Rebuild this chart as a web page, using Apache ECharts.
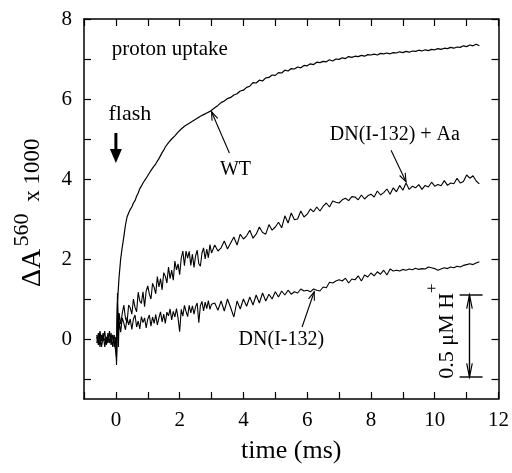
<!DOCTYPE html>
<html><head><meta charset="utf-8">
<script src="https://cdn.jsdelivr.net/npm/echarts@6/dist/echarts.min.js"></script>
<style>html,body{margin:0;padding:0;background:#fff}#c{width:512px;height:473px}</style>
</head><body><div id="c"></div>
<script>
// ---- time samples (ms) ----
const tPre = [-0.6,-0.55,-0.5,-0.45,-0.4,-0.35,-0.3,-0.25,-0.2,-0.15,-0.1,-0.05,0];
const tEarly = [0.02,0.05,0.08,0.1,0.15,0.2,0.25,0.3,0.35,0.4,
0.45,0.5,0.55,0.6,0.65,0.7,0.75,0.8,0.85,0.9,
0.95,1,1.05,1.1,1.15,1.2,1.25,1.3,1.35,1.4,
1.45,1.5,1.55,1.6,1.65,1.7,1.75,1.8,1.85,1.9,
1.95,2,2.05,2.1,2.15,2.2,2.25,2.3,2.35,2.4,
2.45,2.5,2.55,2.6,2.65,2.7,2.75,2.8,2.85,2.9,
2.95,3];
const tLate = [3.1,3.2,3.3,3.4,3.5,3.6,3.7,3.8,3.9,4.0,
4.1,4.2,4.3,4.4,4.5,4.6,4.7,4.8,4.9,5.0,
5.1,5.2,5.3,5.4,5.5,5.6,5.7,5.8,5.9,6.0,
6.1,6.2,6.3,6.4,6.5,6.6,6.7,6.8,6.9,7.0,
7.1,7.2,7.3,7.4,7.5,7.6,7.7,7.8,7.9,8.0,
8.1,8.2,8.3,8.4,8.5,8.6,8.7,8.8,8.9,9.0,
9.1,9.2,9.3,9.4,9.5,9.6,9.7,9.8,9.9,10.0,
10.1,10.2,10.3,10.4,10.5,10.6,10.7,10.8,10.9,11.0,
11.1,11.2,11.3,11.4];

// ---- WT ----
const wtPre = [0.1,-0.15,0.2,-0.05,0.15,-0.2,0.05,-0.1,0.2,-0.15,0.1,-0.05,0.0];
const wtEarly = [-0.45,0.9,1.3,1.55,2.0,2.3,2.56,2.85,3.05,3.15,
3.24,3.3,3.4,3.46,3.57,3.65,3.76,3.82,3.9,3.94,
4.02,4.07,4.15,4.19,4.27,4.3,4.38,4.43,4.51,4.56,
4.66,4.72,4.8,4.84,4.91,4.94,5.0,5.03,5.08,5.11,
5.17,5.19,5.25,5.27,5.32,5.33,5.37,5.38,5.42,5.44,
5.47,5.49,5.52,5.53,5.57,5.58,5.61,5.62,5.65,5.66,
5.69,5.71];
const wtLate = [5.78,5.84,5.91,5.95,6.01,6.04,6.1,6.13,6.2,6.22,
6.29,6.32,6.41,6.4,6.47,6.45,6.53,6.54,6.6,6.59,
6.66,6.65,6.72,6.7,6.76,6.75,6.8,6.78,6.84,6.83,
6.88,6.86,6.92,6.91,6.94,6.93,6.98,6.95,7.0,6.99,
7.03,7.01,7.06,7.04,7.07,7.06,7.09,7.07,7.11,7.1,
7.12,7.1,7.14,7.13,7.15,7.13,7.16,7.15,7.18,7.16,
7.19,7.17,7.2,7.19,7.22,7.2,7.23,7.21,7.24,7.23,
7.26,7.24,7.27,7.26,7.29,7.27,7.3,7.29,7.33,7.31,
7.35,7.33,7.37,7.33];

// ---- DN(I-132) + Aa ----
const aaPre = [-0.1,0.15,-0.2,0.1,-0.05,0.2,-0.15,0.05,-0.1,0.15,-0.2,0.1,-0.1];
const aaEarly = [-0.55,1.15,0.1,0.65,0.37,0.64,0.85,0.52,0.41,0.85,
0.78,0.62,1.0,0.79,0.68,1.17,0.95,0.89,1.18,0.81,
1.2,1.33,1.12,1.0,1.39,1.29,1.13,1.56,1.3,1.51,
1.23,1.66,1.57,1.4,1.8,1.51,1.72,1.47,1.95,1.73,
1.88,1.61,2.02,2.2,1.83,2.2,2.02,2.19,1.84,2.12,
1.79,2.08,2.22,1.88,1.82,2.15,2.28,2.0,2.25,2.03,
2.36,2.15];
const aaLate = [2.35,2.2,2.28,2.45,2.25,2.4,2.55,2.35,2.62,2.5,
2.58,2.72,2.52,2.62,2.8,2.66,2.62,2.86,2.72,2.8,
2.92,2.78,3.08,2.9,3.15,2.98,3.0,3.2,3.05,3.12,
3.25,3.18,3.3,3.2,3.32,3.4,3.3,3.45,3.42,3.4,
3.48,3.52,3.46,3.56,3.55,3.48,3.6,3.5,3.58,3.62,
3.55,3.7,3.6,3.66,3.75,3.62,3.78,3.68,3.84,3.72,
3.9,3.74,3.82,3.78,3.86,3.74,3.84,3.8,3.92,3.82,
3.86,3.83,3.96,3.84,3.9,3.88,4.02,3.9,3.94,4.1,
4.02,4.08,3.95,3.88];

// ---- DN(I-132) ----
const dnPre = [0.05,-0.1,0.1,-0.2,0.05,0.1,-0.1,0.15,-0.05,0.0,0.1,-0.2,0.05];
const dnEarly = [-0.65,0.9,-0.2,0.45,0.17,0.53,0.39,0.23,0.54,0.35,
0.5,0.24,0.5,0.6,0.3,0.45,0.25,0.56,0.41,0.53,
0.28,0.5,0.6,0.32,0.55,0.39,0.61,0.35,0.53,0.68,
0.43,0.62,0.39,0.67,0.58,0.75,0.48,0.69,0.55,0.76,
0.52,0.18,0.74,0.57,0.84,0.69,0.56,0.84,0.65,0.83,
0.62,0.81,0.9,0.41,0.83,0.94,0.7,0.92,0.76,0.96,
0.74,0.87];
const dnLate = [0.9,0.72,0.95,0.7,1.0,0.78,0.55,0.95,0.75,1.0,
0.82,1.05,0.85,1.1,0.9,1.15,0.95,1.12,1.0,1.18,
1.05,1.2,1.1,1.22,1.12,1.18,1.15,1.25,1.2,1.22,
1.18,1.25,1.22,1.2,1.3,1.28,1.42,1.4,1.45,1.48,
1.45,1.52,1.4,1.5,1.48,1.58,1.45,1.6,1.55,1.65,
1.58,1.68,1.62,1.72,1.6,1.75,1.7,1.72,1.7,1.74,
1.72,1.75,1.73,1.77,1.74,1.76,1.75,1.8,1.78,1.76,
1.72,1.75,1.78,1.76,1.8,1.78,1.82,1.8,1.84,1.86,
1.88,1.86,1.9,1.93];

// ---- axis ticks / labels ----
const xTicks = [-1,0,1,2,3,4,5,6,7,8,9,10,11,12];
const xLabels = [0,2,4,6,8,10,12];
const yTicks = [-1,0,1,2,3,4,5,6,7,8];
const yLabels = [0,2,4,6,8];

// ---- annotations (data coordinates) ----
const FONT = '"Liberation Serif","Times New Roman",serif';
const annots = [
  {kind:'text', text:'proton uptake', at:[1.69,7.23], size:21},
  {kind:'text', text:'flash', at:[0.44,5.63], size:22},
  {kind:'text', text:'WT', at:[3.75,4.22], size:20},
  {kind:'text', text:'DN(I-132) + Aa', at:[8.75,5.1], size:20},
  {kind:'text', text:'DN(I-132)', at:[5.19,-0.03], size:20},
  {kind:'arrow', from:[3.56,4.65], to:[3.0,5.68]},
  {kind:'arrow', from:[8.63,4.72], to:[9.1,3.93]},
  {kind:'arrow', from:[5.84,0.3], to:[6.22,1.18]},
  {kind:'flash', from:[0,5.15], to:[0,4.4]},
  {kind:'bar', x:11.09, y0:-0.95, y1:1.1, cap:[10.78,11.5]},
  {kind:'rtext', at:[10.2,0.2]}
];

function pairs(t, y){ return t.map((v,i)=>[v,y[i]]); }
const wt = pairs(tPre,wtPre).concat(pairs(tEarly,wtEarly), pairs(tLate,wtLate));
const aa = pairs(tPre,aaPre).concat(pairs(tEarly,aaEarly), pairs(tLate,aaLate));
const dn = pairs(tPre,dnPre).concat(pairs(tEarly,dnEarly), pairs(tLate,dnLate));

function openHead(tip, from, len, ang, lw){
  const dx=from[0]-tip[0], dy=from[1]-tip[1], d=Math.hypot(dx,dy), ux=dx/d, uy=dy/d;
  const r=a=>[tip[0]+len*(ux*Math.cos(a)-uy*Math.sin(a)), tip[1]+len*(ux*Math.sin(a)+uy*Math.cos(a))];
  return {type:'polyline', shape:{points:[r(ang),tip,r(-ang)]}, style:{stroke:'#000', fill:null, lineWidth:lw}};
}

function renderAnnot(params, api){
  const a = annots[params.dataIndex];
  const S = {stroke:'#000', fill:null};
  if (a.kind==='text'){
    const p = api.coord(a.at);
    return {type:'text', x:p[0], y:p[1], style:{text:a.text, fill:'#000', font:a.size+'px '+FONT, align:'center', verticalAlign:'middle'}};
  }
  if (a.kind==='arrow'){
    const f=api.coord(a.from), t=api.coord(a.to);
    return {type:'group', children:[
      {type:'line', shape:{x1:f[0],y1:f[1],x2:t[0],y2:t[1]}, style:Object.assign({lineWidth:1.1},S)},
      openHead(t,f,9,0.35,1.1)
    ]};
  }
  if (a.kind==='flash'){
    const f=api.coord(a.from), t=api.coord(a.to);
    return {type:'group', children:[
      {type:'line', shape:{x1:f[0],y1:f[1],x2:t[0],y2:t[1]-10}, style:{stroke:'#000', lineWidth:3}},
      {type:'polygon', shape:{points:[[t[0],t[1]],[t[0]-6,t[1]-14],[t[0]+6,t[1]-14]]}, style:{fill:'#000'}}
    ]};
  }
  if (a.kind==='bar'){
    const top=api.coord([a.x,a.y1]), bot=api.coord([a.x,a.y0]);
    const cl=api.coord([a.cap[0],a.y1])[0], cr=api.coord([a.cap[1],a.y1])[0];
    return {type:'group', children:[
      {type:'line', shape:{x1:top[0],y1:top[1],x2:bot[0],y2:bot[1]}, style:Object.assign({lineWidth:1.4},S)},
      {type:'line', shape:{x1:cl,y1:top[1],x2:cr,y2:top[1]}, style:Object.assign({lineWidth:1.4},S)},
      {type:'line', shape:{x1:cl,y1:bot[1],x2:cr,y2:bot[1]}, style:Object.assign({lineWidth:1.4},S)},
      openHead(top,bot,14,0.2,1.2),
      openHead(bot,top,14,0.2,1.2)
    ]};
  }
  if (a.kind==='rtext'){
    const p=api.coord(a.at);
    return {type:'text', x:p[0], y:p[1], rotation:Math.PI/2, style:{
      text:'{n|0.5 μM H}{s|+}', align:'center', verticalAlign:'middle',
      rich:{n:{fontSize:22, fontFamily:FONT, fill:'#000', lineHeight:34, verticalAlign:'bottom'},
            s:{fontSize:17, fontFamily:FONT, fill:'#000', lineHeight:16, verticalAlign:'top'}}}};
  }
}

const axisLine = {show:true, onZero:false, lineStyle:{color:'#000', width:1.5}};
const tickStyle = {show:true, inside:true, length:7, lineStyle:{color:'#000', width:1.2}};
const labelStyle = {color:'#000', fontFamily:FONT, fontSize:21};

// y-axis title pieces (rotated, reading upward)
const yTitle = [
  {text:'ΔA', size:28, x:33, y:268},
  {text:'560', size:22, x:22, y:230},
  {text:'x 1000', size:23, x:33, y:170}
];

const chart = echarts.init(document.getElementById('c'), null, {renderer:'canvas'});
chart.setOption({
  animation:false,
  backgroundColor:'#fff',
  grid:{left:84, right:11, top:19, bottom:74},
  graphic: yTitle.map(t=>({type:'text', x:t.x, y:t.y, rotation:Math.PI/2,
    style:{text:t.text, fill:'#000', font:t.size+'px '+FONT, align:'center', verticalAlign:'middle'}})),
  xAxis:[
    {type:'value', min:-1, max:12, position:'bottom', axisLine,
     axisTick:Object.assign({customValues:xTicks},tickStyle),
     axisLabel:Object.assign({customValues:xLabels, margin:11},labelStyle),
     splitLine:{show:false},
     name:'time (ms)', nameLocation:'middle', nameGap:39,
     nameTextStyle:{color:'#000', fontFamily:FONT, fontSize:26}},
    {type:'value', min:-1, max:12, position:'top', axisLine,
     axisTick:Object.assign({customValues:xTicks},tickStyle),
     axisLabel:{show:false}, splitLine:{show:false}}
  ],
  yAxis:[
    {type:'value', min:-1.5, max:8, position:'left', axisLine,
     axisTick:Object.assign({customValues:yTicks},tickStyle),
     axisLabel:Object.assign({customValues:yLabels, margin:12},labelStyle),
     splitLine:{show:false}},
    {type:'value', min:-1.5, max:8, position:'right', axisLine,
     axisTick:Object.assign({customValues:yTicks},tickStyle),
     axisLabel:{show:false}, splitLine:{show:false}}
  ],
  series:[
    {type:'line', name:'WT', data:wt, showSymbol:false, lineStyle:{color:'#000', width:1.2}, silent:true},
    {type:'line', name:'DN(I-132) + Aa', data:aa, showSymbol:false, lineStyle:{color:'#000', width:1.1}, silent:true},
    {type:'line', name:'DN(I-132)', data:dn, showSymbol:false, lineStyle:{color:'#000', width:1.1}, silent:true},
    {type:'custom', renderItem:renderAnnot, data:annots.map(()=>[0,0]), silent:true, clip:false, z:5}
  ]
});
</script></body></html>
